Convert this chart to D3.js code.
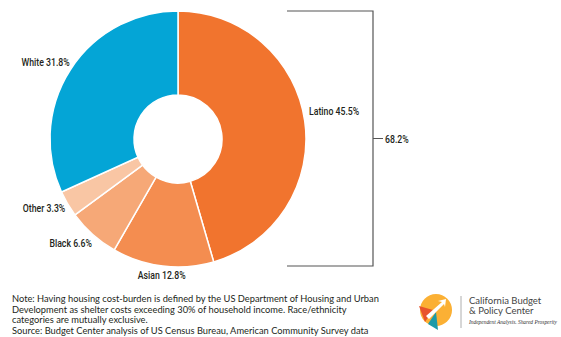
<!DOCTYPE html>
<html lang="en">
<head>
<meta charset="utf-8">
<title>Housing cost-burden by race/ethnicity</title>
<script src="https://cdn.jsdelivr.net/npm/d3@7"></script>
<style>
    body { margin: 0; background: #fff; }
    .lbl { font-family: Roboto, "Liberation Sans", sans-serif; font-size: 11.5px; font-weight: 500; fill: #231f20; }
    .note { font-family: Lato, "Open Sans", sans-serif; font-size: 9.3px; fill: #231f20; }
</style>
</head>
<body>
<script>
    // data
    var groups = ["Latino", "Asian", "Black", "Other", "White"];
    var shares = [45.5, 12.8, 6.6, 3.3, 31.8];
    var colors = ["#f1742e", "#f48d50", "#f6a877", "#f9c6a4", "#04a5d6"];
    var bracketTotal = "68.2%";
    var notes = [
        "Note: Having housing cost-burden is defined by the US Department of Housing and Urban",
        "Development as shelter costs exceeding 30% of household income. Race/ethnicity",
        "categories are mutually exclusive.",
        "Source: Budget Center analysis of US Census Bureau, American Community Survey data"
    ];

    var width = 561, height = 337;
    var cx = 178, cy = 139, outerR = 128, innerR = 44;
    var squeeze = 0.76; // condensed look for the labels

    var svg = d3.select("body").append("svg")
        .attr("width", width)
        .attr("height", height);

    var pie = d3.pie().sort(null).value(d => d.v);
    var arcs = pie(groups.map((g, i) => ({ g: g, v: shares[i], c: colors[i] })));
    var arc = d3.arc().innerRadius(innerR).outerRadius(outerR);

    var chart = svg.append("g").attr("transform", `translate(${cx},${cy})`);
    chart.selectAll("path")
        .data(arcs)
        .join("path")
        .attr("d", arc)
        .attr("fill", d => d.data.c)
        .attr("stroke", "#fff")
        .attr("stroke-width", 1.5);

    // where each label sits: fraction along the slice, radius, anchor
    var labelPos = {
        Latino: { a: 0.475, r: 134, anchor: "start" },
        Asian: { a: 0.5, r: 137, anchor: "middle" },
        Black: { a: 0.41, r: 135, anchor: "end" },
        Other: { a: 0.42, r: 132, anchor: "end" },
        White: { a: 0.524, r: 133, anchor: "end" }
    };
    function spot(d) {
        var p = labelPos[d.data.g];
        var a = d.startAngle + (d.endAngle - d.startAngle) * p.a;
        return [Math.sin(a) * p.r, -Math.cos(a) * p.r];
    }
    chart.selectAll("g.lab")
        .data(arcs)
        .join("g")
        .attr("class", "lab")
        .attr("transform", d => `translate(${spot(d)}) scale(${squeeze},1)`)
        .append("text")
        .attr("class", "lbl")
        .attr("text-anchor", d => labelPos[d.data.g].anchor)
        .attr("dy", "0.35em")
        .text(d => `${d.data.g} ${d.data.v}%`);

    // bracket
    var bx0 = 287, bx1 = 373, by0 = 11, by1 = 266;
    svg.append("path")
        .attr("d", `M${bx0},${by0}H${bx1}V${by1}H${bx0}M${bx1},${(by0 + by1) / 2}H${bx1 + 10}`)
        .attr("fill", "none")
        .attr("stroke", "#555")
        .attr("stroke-width", 1.2);
    svg.append("g")
        .attr("transform", `translate(${bx1 + 12},${(by0 + by1) / 2}) scale(${squeeze},1)`)
        .append("text")
        .attr("class", "lbl")
        .attr("dy", "0.35em")
        .text(bracketTotal);

    // notes
    svg.append("g").selectAll("text")
        .data(notes)
        .join("text")
        .attr("class", "note")
        .attr("x", 12)
        .attr("y", (d, i) => 302 + i * 10.7)
        .text(d => d);

    // logo
    var logo = svg.append("g").attr("transform", "translate(436,310)");
    logo.append("circle").attr("r", 16).attr("fill", "#fbb034");
    logo.append("path").attr("d", "M-17,-4L-3,0L-11,12Z").attr("fill", "#e8542c");
    logo.append("path").attr("d", "M-8,14L0,2L2,20Z").attr("fill", "#1c9aa8");
    logo.append("path").attr("d", "M-10,6L6,-8L2,-9L10,-11L9,-3L8,-6L-7,9Z").attr("fill", "#fff");
    svg.append("line")
        .attr("x1", 461).attr("x2", 461).attr("y1", 296).attr("y2", 328)
        .attr("stroke", "#999").attr("stroke-width", 0.8);
    svg.append("text").attr("x", 469).attr("y", 304)
        .attr("font-family", "Lato, sans-serif").attr("font-size", 9.5).attr("fill", "#444")
        .text("California Budget");
    svg.append("text").attr("x", 469).attr("y", 314)
        .attr("font-family", "Lato, sans-serif").attr("font-size", 9.5).attr("fill", "#444")
        .text("& Policy Center");
    svg.append("text").attr("x", 469).attr("y", 324)
        .attr("font-family", "'Liberation Serif', serif").attr("font-style", "italic")
        .attr("font-size", 5.6).attr("fill", "#333")
        .attr("textLength", 88).attr("lengthAdjust", "spacingAndGlyphs")
        .text("Independent Analysis. Shared Prosperity");
</script>
</body>
</html>
